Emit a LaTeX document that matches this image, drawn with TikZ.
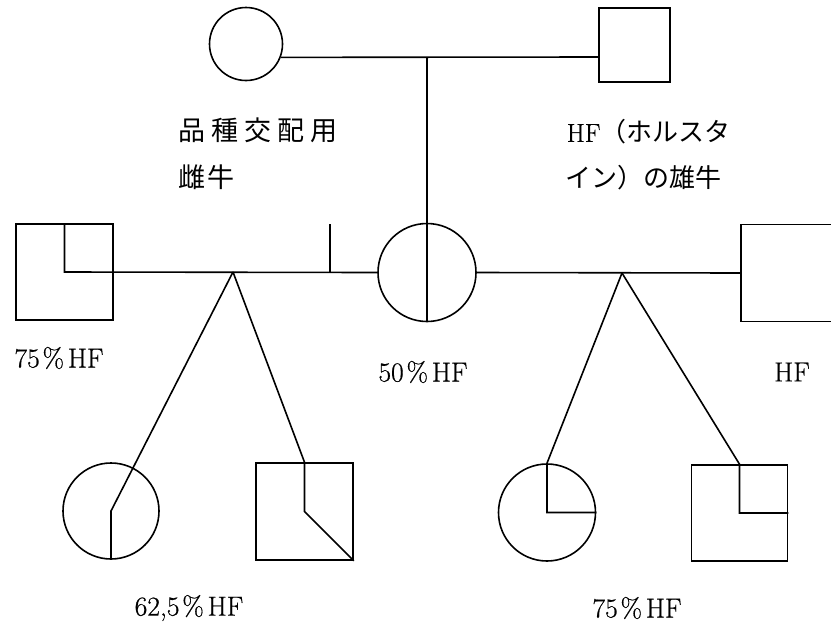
\documentclass[tikz,border=0pt]{standalone}
\usepackage{fontspec}
\newfontfamily\cjk{Noto Sans CJK JP}
\newfontfamily\labfont{Latin Modern Roman}[FakeBold=0.6]
\begin{document}
\begin{tikzpicture}[x=1pt,y=-1pt, line width=1.6pt,
  fem/.style={draw, circle, inner sep=0pt},
  mal/.style={draw, rectangle, inner sep=0pt},
  lab/.style={inner sep=0pt, font=\labfont\fontsize{27.5}{30}\selectfont},
  jp/.style={inner sep=0pt, anchor=west, font=\cjk\fontsize{27}{30}\selectfont},
  jpr/.style={inner sep=0pt, anchor=west, font=\labfont\fontsize{26}{30}\selectfont}]
\useasboundingbox (0,0) rectangle (831,625);
\clip (0,0) rectangle (831,625);

% individuals
\node[fem, minimum size=73pt] (topF) at (246,44) {};
\node[mal, minimum width=71pt, minimum height=74pt] (topM) at (634.5,45) {};
\node[mal, minimum width=97pt, minimum height=96pt] (midL) at (64.5,272) {};
\node[fem, minimum size=98pt] (midC) at (427,272.5) {};
\node[mal, minimum size=97pt] (midR) at (789.5,273) {};
\node[fem, minimum size=96pt] (c1) at (111,511) {};
\node[mal, minimum size=97pt] (c2) at (304.5,511.5) {};
\node[fem, minimum size=97pt] (c3) at (547,512.5) {};
\node[mal, minimum size=96pt] (c4) at (739.5,513) {};

% junctions
\coordinate (jt) at (427,57);
\coordinate (tk) at (330,224);
\coordinate (jl) at (233,272);
\coordinate (jr) at (622,273);

% top couple
\draw (topF.-21) -- ([yshift=-12pt]topM.west);
\draw (jt) -- (midC.south);

% left couple
\draw (midL.north) -- (midL.center) -- (midC.west);
\draw (tk) -- (tk |- midC.west);
\draw (jl) -- (c1.center) -- (c1.south);
\draw (jl) -- (c2.north) -- (c2.center) -- (c2.south east);

% right couple
\draw (midC.east) -- (midR.west);
\draw (jr) -- (c3.north) -- (c3.center) -- (c3.east);
\draw (jr) -- (c4.north) -- (c4.center) -- (c4.east);

% texts
\node[jp] (t1) at (178,130) {品\hspace{6pt}種\hspace{6pt}交\hspace{6pt}配\hspace{6pt}用};
\node[jp] (t2) at (178,177) {雌\hspace{2pt}牛};
\node[jpr] (t3) at (566,132) {HF{\cjk （ホルスタ}};
\node[jpr] (t4) at (565,178) {{\cjk イン）の雄牛}};

\node[lab] (l1) at (59,358) {75\hspace{3pt}\%\hspace{4pt}HF};
\node[lab] (l2) at (423,372) {50\hspace{3pt}\%\hspace{4pt}HF};
\node[lab] (l3) at (792,372) {HF};
\node[lab] (l4) at (189,608) {62,5\hspace{3pt}\%\hspace{4pt}HF};
\node[lab] (l5) at (637,608) {75\hspace{3pt}\%\hspace{4pt}HF};
\end{tikzpicture}
\end{document}
